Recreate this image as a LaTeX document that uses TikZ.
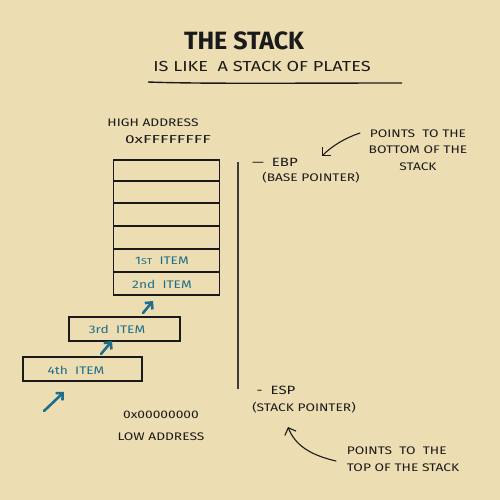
\documentclass[tikz,border=0pt]{standalone}
\usepackage{fontspec}
\setmainfont{Fira Sans}
\newfontfamily\handfont[FakeStretch=1.25]{Fira Sans}
\newfontfamily\widefont[FakeStretch=1.5]{Fira Sans}
\usetikzlibrary{arrows.meta}
\definecolor{bgbeige}{HTML}{EDDDB2}
\definecolor{itemblue}{HTML}{1E6E8A}
\definecolor{inkblack}{HTML}{1A1A1A}
\tikzset{
  hand/.style={font=\handfont\fontsize{11}{16.5}\selectfont, text=inkblack, inner sep=0pt},
  itemtxt/.style={font=\handfont\fontsize{11}{12}\selectfont, text=itemblue, inner sep=0pt},
  cell/.style={draw=inkblack, line width=1.3pt, minimum width=106pt, inner sep=0pt},
  bluearrow/.style={draw=itemblue, line width=2.6pt, line cap=round, -{Straight Barb[length=5pt,width=10pt]}},
  blackarrow/.style={draw=inkblack, line width=1.1pt, line cap=round, -{Straight Barb[length=6pt,width=12pt]}}
}
\begin{document}
\begin{tikzpicture}[x=1pt,y=-1pt]
\fill[bgbeige] (0,0) rectangle (500,500);
\useasboundingbox (0,0) rectangle (500,500);
% title
\node[font=\bfseries\fontsize{25}{26}\selectfont, text=inkblack, inner sep=0pt] (title) at (244,41) {THE STACK};
\node[font=\handfont\fontsize{14.5}{16}\selectfont, text=inkblack, inner sep=0pt] (sub) at (262,67) {IS LIKE \ A STACK OF PLATES};
\coordinate (ul1) at (148,82);
\coordinate (ul2) at (402,83);
\draw[inkblack, line width=1.4pt] (ul1) .. controls (200,84) and (300,83) .. (ul2);
% address labels
\node[hand] (high) at (153,123) {HIGH ADDRESS};
\node[hand, font=\widefont\fontsize{11.5}{12}\selectfont] (highhex) at (168,140) {0xFFFFFFFF};
\node[hand] (lowhex) at (161,415) {0x00000000};
\node[hand] (low) at (161,437) {LOW ADDRESS};
% stack cells
\node[cell, minimum height=21pt] (c1) at (166.5,170.5) {};
\node[cell, minimum height=22pt] (c2) at (166.5,192) {};
\node[cell, minimum height=23pt] (c3) at (166.5,214.5) {};
\node[cell, minimum height=23pt] (c4) at (166.5,237.5) {};
\node[cell, minimum height=23pt] (c5) at (166.5,260.5) {};
\node[cell, minimum height=23pt] (c6) at (166.5,283.5) {};
\node[itemtxt] (i1) at (162,261) {1{\fontsize{8.5}{9}\selectfont ST} \ ITEM};
\node[itemtxt] (i2) at (162,284) {2nd \ ITEM};
% popped items
\node[cell, minimum width=111pt, minimum height=24pt] (c7) at (124.5,329) {};
\node[itemtxt] (i3) at (117,329) {3rd \ ITEM};
\node[cell, minimum width=119pt, minimum height=24pt] (c8) at (82.5,369) {};
\node[itemtxt] (i4) at (76,370) {4th \ ITEM};
% blue arrows
\coordinate (a1s) at (44,411);
\coordinate (a1e) at (64,392);
\draw[bluearrow] (a1s) -- (a1e);
\coordinate (a2s) at (101,354);
\coordinate (a2e) at (112,341);
\draw[bluearrow] (a2s) -- (a2e);
\coordinate (a3s) at (143,313);
\coordinate (a3e) at (153,301);
\draw[bluearrow] (a3s) -- (a3e);
% vertical line
\coordinate (vtop) at (238,162);
\coordinate (vbot) at (238,389);
\draw[inkblack!85, line width=1.3pt] (vtop) -- (vbot);
% EBP
\node[hand, font=\handfont\fontsize{12}{12}\selectfont] (ebp) at (275,162) {— \ EBP};
\node[hand] (ebpl) at (311,178) {(BASE POINTER)};
\node[hand, align=center] (ebpnote) at (418,150) {POINTS \ TO THE\\BOTTOM OF THE\\STACK};
\coordinate (n1s) at (360,133);
\coordinate (n1e) at (322,156);
\draw[blackarrow] (n1s) .. controls (345,138) and (332,146) .. (n1e);
% ESP
\node[hand, font=\handfont\fontsize{12}{12}\selectfont] (esp) at (276,390) {- \ ESP};
\node[hand] (espl) at (304,408) {(STACK POINTER)};
\node[hand, align=left] (espnote) at (403,459) {POINTS \ TO \ THE\\TOP OF THE STACK};
\coordinate (n2s) at (336,461);
\coordinate (n2e) at (288,427);
\draw[blackarrow] (n2s) .. controls (310,455) and (295,445) .. (n2e);
\end{tikzpicture}
\end{document}
